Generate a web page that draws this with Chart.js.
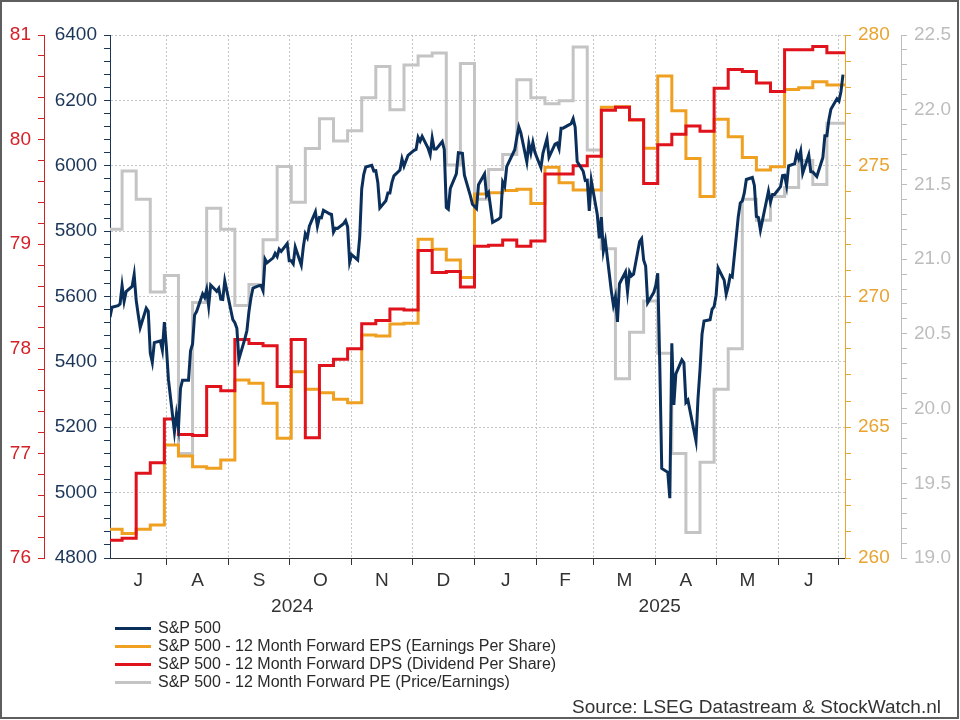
<!DOCTYPE html>
<html>
<head>
<meta charset="utf-8">
<script src="https://cdn.jsdelivr.net/npm/chart.js@4.4.1/dist/chart.umd.min.js"></script>
<style>
  html, body { margin: 0; padding: 0; background: #fff; }
  #wrap { position: relative; width: 960px; height: 720px; font-family: 'Liberation Sans', Arial, sans-serif; }
  #frame { position: absolute; left: 0; top: 0; width: 959px; height: 719px; box-sizing: border-box;
           border: 2px solid #5e5e5e; pointer-events: none; }
  #legend { position: absolute; left: 115px; top: 619px; font-size: 16px; color: #2a2a2a; }
  #legend div { height: 18px; line-height: 18px; white-space: nowrap; }
  #legend span { display: inline-block; width: 36px; height: 3px; margin-right: 7px; vertical-align: middle; }
  #source { position: absolute; right: 19px; top: 696px; font-size: 19px; color: #333; white-space: nowrap; }
</style>
</head>
<body>
<div id="wrap">
  <canvas id="myChart" width="960" height="720"></canvas>
  <div id="legend"></div>
  <div id="source">Source: LSEG Datastream &amp; StockWatch.nl</div>
  <div id="frame"></div>
</div>
<script>
// S&P 500 daily closes
var spDates = [
  '2024-07-04','2024-07-05','2024-07-08','2024-07-09','2024-07-10','2024-07-11','2024-07-12','2024-07-15','2024-07-16','2024-07-17','2024-07-18','2024-07-19','2024-07-22','2024-07-23','2024-07-24','2024-07-25','2024-07-26','2024-07-29','2024-07-30','2024-07-31',
  '2024-08-01','2024-08-02','2024-08-05','2024-08-06','2024-08-07','2024-08-08','2024-08-09','2024-08-12','2024-08-13','2024-08-14','2024-08-15','2024-08-16','2024-08-19','2024-08-20','2024-08-21','2024-08-22','2024-08-23','2024-08-26','2024-08-27','2024-08-28','2024-08-29','2024-08-30',
  '2024-09-03','2024-09-04','2024-09-05','2024-09-06','2024-09-09','2024-09-10','2024-09-11','2024-09-12','2024-09-13','2024-09-16','2024-09-17','2024-09-18','2024-09-19','2024-09-20','2024-09-23','2024-09-24','2024-09-25','2024-09-26','2024-09-27','2024-09-30',
  '2024-10-01','2024-10-02','2024-10-03','2024-10-04','2024-10-07','2024-10-08','2024-10-09','2024-10-10','2024-10-11','2024-10-14','2024-10-15','2024-10-16','2024-10-17','2024-10-18','2024-10-21','2024-10-22','2024-10-23','2024-10-24','2024-10-25','2024-10-28','2024-10-29','2024-10-30','2024-10-31',
  '2024-11-01','2024-11-04','2024-11-05','2024-11-06','2024-11-07','2024-11-08','2024-11-11','2024-11-12','2024-11-13','2024-11-14','2024-11-15','2024-11-18','2024-11-19','2024-11-20','2024-11-21','2024-11-22','2024-11-25','2024-11-26','2024-11-27','2024-11-29',
  '2024-12-02','2024-12-03','2024-12-04','2024-12-05','2024-12-06','2024-12-09','2024-12-10','2024-12-11','2024-12-12','2024-12-13','2024-12-16','2024-12-17','2024-12-18','2024-12-19','2024-12-20','2024-12-23','2024-12-24','2024-12-26','2024-12-27','2024-12-30','2024-12-31',
  '2025-01-02','2025-01-03','2025-01-06','2025-01-07','2025-01-08','2025-01-10','2025-01-13','2025-01-14','2025-01-15','2025-01-16','2025-01-17','2025-01-21','2025-01-22','2025-01-23','2025-01-24','2025-01-27','2025-01-28','2025-01-29','2025-01-30','2025-01-31',
  '2025-02-03','2025-02-04','2025-02-05','2025-02-06','2025-02-07','2025-02-10','2025-02-11','2025-02-12','2025-02-13','2025-02-14','2025-02-18','2025-02-19','2025-02-20','2025-02-21','2025-02-24','2025-02-25','2025-02-26','2025-02-27','2025-02-28',
  '2025-03-03','2025-03-04','2025-03-05','2025-03-06','2025-03-07','2025-03-10','2025-03-11','2025-03-12','2025-03-13','2025-03-14','2025-03-17','2025-03-18','2025-03-19','2025-03-20','2025-03-21','2025-03-24','2025-03-25','2025-03-26','2025-03-27','2025-03-28','2025-03-31',
  '2025-04-01','2025-04-02','2025-04-03','2025-04-04','2025-04-07','2025-04-08','2025-04-09','2025-04-10','2025-04-11','2025-04-14','2025-04-15','2025-04-16','2025-04-17','2025-04-21','2025-04-22','2025-04-23','2025-04-24','2025-04-25','2025-04-28','2025-04-29','2025-04-30',
  '2025-05-01','2025-05-02','2025-05-05','2025-05-06','2025-05-07','2025-05-08','2025-05-09','2025-05-12','2025-05-13','2025-05-14','2025-05-15','2025-05-16','2025-05-19','2025-05-20','2025-05-21','2025-05-22','2025-05-23','2025-05-27','2025-05-28','2025-05-29','2025-05-30',
  '2025-06-02','2025-06-03','2025-06-04','2025-06-05','2025-06-06','2025-06-09','2025-06-10','2025-06-11','2025-06-12','2025-06-13','2025-06-16','2025-06-17','2025-06-18','2025-06-20','2025-06-23','2025-06-24','2025-06-25','2025-06-26','2025-06-27','2025-06-30',
  '2025-07-01','2025-07-02','2025-07-03'
];
var spClose = [
  5537,5567,5572,5577,5633,5585,5615,5631,5667,5589,5545,5505,5564,5555,5427,5399,5459,5464,5436,5522,
  5446,5347,5186,5240,5199,5319,5344,5344,5434,5455,5543,5554,5608,5597,5621,5571,5635,5616,5625,5592,5591,5648,
  5529,5520,5503,5408,5471,5496,5554,5596,5626,5633,5634,5618,5714,5703,5718,5732,5722,5745,5738,5762,
  5709,5709,5700,5751,5696,5751,5792,5780,5815,5859,5815,5842,5841,5864,5853,5851,5797,5809,5808,5823,5832,5813,5705,
  5728,5712,5782,5929,5973,5996,6001,5984,5985,5949,5871,5893,5917,5917,5949,5969,5987,6021,5999,6032,
  6047,6050,6087,6075,6090,6053,6034,6085,6051,6051,6074,6050,5872,5867,5931,5975,6040,6038,5971,5907,5882,
  5869,5942,5975,5909,5918,5827,5837,5843,5950,5937,5997,6049,6086,6119,6101,6012,6068,6039,6071,6041,
  5994,6038,6061,6083,6026,6066,6069,6052,6115,6115,6129,6144,6118,6013,5983,5955,5956,5862,5955,
  5850,5778,5843,5739,5770,5615,5573,5599,5522,5639,5675,5615,5675,5663,5668,5768,5777,5712,5693,5581,5612,
  5633,5671,5397,5074,5062,4983,5457,5268,5363,5406,5397,5276,5283,5158,5288,5376,5485,5525,5529,5561,5569,
  5604,5687,5650,5607,5631,5664,5660,5844,5886,5892,5917,5958,5964,5940,5845,5842,5803,5922,5889,5912,5912,
  5936,5970,5971,5939,6000,6006,6038,6022,6045,5977,6033,5982,5981,5967,6025,6092,6092,6141,6173,6205,
  6198,6227,6279
];

// weekly forward estimates (value holds from that date on)
var weekDates = [
  '2024-07-04','2024-07-10','2024-07-17','2024-07-24','2024-07-31','2024-08-07','2024-08-14','2024-08-21','2024-08-28',
  '2024-09-04','2024-09-11','2024-09-18','2024-09-25','2024-10-02','2024-10-09','2024-10-16','2024-10-23','2024-10-30',
  '2024-11-06','2024-11-13','2024-11-20','2024-11-27','2024-12-04','2024-12-11','2024-12-18','2024-12-25',
  '2025-01-01','2025-01-08','2025-01-15','2025-01-22','2025-01-29','2025-02-05','2025-02-12','2025-02-19','2025-02-26',
  '2025-03-05','2025-03-12','2025-03-19','2025-03-26','2025-04-02','2025-04-09','2025-04-16','2025-04-23','2025-04-30',
  '2025-05-07','2025-05-14','2025-05-21','2025-05-28','2025-06-04','2025-06-11','2025-06-18','2025-06-25','2025-07-04'
];
var epsFwd = [
  261.10,260.94,261.10,261.26,264.32,263.90,263.49,263.43,263.75,
  266.81,266.68,265.92,264.58,267.12,266.45,266.32,266.07,265.94,
  268.53,268.49,268.95,268.98,272.19,271.81,271.40,270.73,
  273.92,273.97,274.05,274.10,273.56,274.94,274.35,274.07,274.07,
  277.24,277.26,276.75,275.67,278.43,277.10,275.28,273.82,276.78,
  276.11,275.32,274.84,274.96,277.92,277.98,278.21,278.09,278.09
];
var dpsFwd = [
  76.17,76.19,76.81,76.91,77.33,77.18,77.17,77.64,77.60,
  78.09,78.05,78.03,77.64,78.09,77.15,77.84,77.90,78.00,
  78.24,78.27,78.38,78.37,78.94,78.73,78.74,78.59,
  78.98,78.99,79.04,78.98,79.03,79.67,79.67,79.75,79.84,
  80.28,80.31,80.19,79.58,79.95,80.05,80.13,80.08,80.49,
  80.67,80.65,80.54,80.46,80.86,80.86,80.89,80.83,80.83
];
var peFwd = [
  21.20,21.59,21.40,20.78,20.89,19.70,20.71,21.34,21.20,
  20.69,20.83,21.13,21.62,21.38,21.74,21.94,21.79,21.86,
  22.08,22.29,22.00,22.30,22.36,22.38,21.63,22.31,
  21.40,21.60,21.70,22.20,22.08,22.04,22.06,22.42,21.73,
  21.07,20.20,20.51,20.72,20.37,19.70,19.17,19.64,20.13,
  20.40,21.40,21.26,21.42,21.48,21.66,21.50,21.91,21.91
];

// axes
var monthStarts = ['2024-08-01','2024-09-01','2024-10-01','2024-11-01','2024-12-01','2025-01-01',
                   '2025-02-01','2025-03-01','2025-04-01','2025-05-01','2025-06-01','2025-07-01'];
var monthLabels = ['J','A','S','O','N','D','J','F','M','A','M','J'];
var yearLabels = ['2024', '2025'];
var xStart = '2024-07-04', xEnd = '2025-07-04';
var spTicks = [4800, 5000, 5200, 5400, 5600, 5800, 6000, 6200, 6400];
var dpsTicks = [76, 77, 78, 79, 80, 81];
var epsTicks = [260, 265, 270, 275, 280];
var peTicks = [19.0, 19.5, 20.0, 20.5, 21.0, 21.5, 22.0, 22.5];

var seriesNames = ['S&P 500',
  'S&P 500 - 12 Month Forward EPS (Earnings Per Share)',
  'S&P 500 - 12 Month Forward DPS (Dividend Per Share)',
  'S&P 500 - 12 Month Forward PE (Price/Earnings)'];
var seriesColors = ['#0b2f5b', '#f0a020', '#e0121b', '#c4c4c4'];

var T0 = Date.UTC(2024, 6, 4);
function dayOf(s) {
  var p = s.split('-');
  return (Date.UTC(+p[0], +p[1] - 1, +p[2]) - T0) / 86400000;
}
function pts(dates, vals) {
  return dates.map(function (d, i) { return { x: dayOf(d), y: vals[i] }; });
}
// major ticks plus 4 minor ticks in each gap
function withMinor(major) {
  var out = [];
  for (var i = 0; i < major.length - 1; i++) {
    var step = (major[i + 1] - major[i]) / 5;
    for (var k = 0; k < 5; k++) out.push({ value: major[i] + k * step });
  }
  out.push({ value: major[major.length - 1] });
  return out;
}
function isMajor(major, v) {
  return major.some(function (m) { return Math.abs(m - v) < 1e-6; });
}

var FONT = "'Liberation Sans', Arial, sans-serif";
var xMin = dayOf(xStart), xMax = dayOf(xEnd);
var bounds = [xMin].concat(monthStarts.map(dayOf));
var monthMid = monthLabels.map(function (l, i) { return (bounds[i] + bounds[i + 1]) / 2; });
var yearBounds = [xMin, dayOf('2025-01-01'), xMax];
var yearMid = yearLabels.map(function (l, i) { return (yearBounds[i] + yearBounds[i + 1]) / 2; });

function yAxis(major, color, pos, weight, width, fmt, grid) {
  return {
    type: 'linear', position: pos, weight: weight,
    min: major[0], max: major[major.length - 1],
    afterBuildTicks: function (s) { s.ticks = withMinor(major); },
    afterFit: function (s) { s.width = width; },
    ticks: {
      autoSkip: false, padding: 7, color: color,
      font: { family: FONT, size: 19 },
      callback: function (v) { return isMajor(major, v) ? fmt(v) : ''; }
    },
    grid: {
      drawOnChartArea: !!grid, tickLength: 6, tickColor: color, tickBorderDash: [],
      color: function (c) { return c.tick && isMajor(major, c.tick.value) ? '#c6c6c6' : 'rgba(0,0,0,0)'; }
    },
    border: { color: color, width: 1, dash: [2, 2] }
  };
}

function labelAxis(mids, labels, weight, height, pad) {
  return {
    type: 'linear', position: 'bottom', weight: weight, min: xMin, max: xMax,
    afterBuildTicks: function (s) { s.ticks = mids.map(function (v) { return { value: v }; }); },
    afterFit: function (s) { s.height = height; },
    ticks: {
      autoSkip: false, maxRotation: 0, padding: pad, color: '#333',
      font: { family: FONT, size: 19 },
      callback: function (v, i) { return labels[i]; }
    },
    grid: { display: false, drawTicks: false },
    border: { display: false }
  };
}

var datasets = [
  { label: seriesNames[0], data: pts(spDates, spClose), yAxisID: 'ySP', order: 0 },
  { label: seriesNames[1], data: pts(weekDates, epsFwd), yAxisID: 'yEPS', stepped: true, order: 2 },
  { label: seriesNames[2], data: pts(weekDates, dpsFwd), yAxisID: 'yDPS', stepped: true, order: 1 },
  { label: seriesNames[3], data: pts(weekDates, peFwd), yAxisID: 'yPE', stepped: true, order: 3 }
];
datasets.forEach(function (d, i) {
  d.xAxisID = 'x';
  d.borderColor = seriesColors[i];
  d.backgroundColor = seriesColors[i];
  d.borderWidth = 3;
  d.pointRadius = 0;
  d.fill = false;
  d.tension = 0;
});

var ctx = document.getElementById('myChart').getContext('2d');
var myChart = new Chart(ctx, {
  type: 'line',
  data: { datasets: datasets },
  options: {
    responsive: false,
    animation: false,
    devicePixelRatio: 1,
    layout: { padding: { top: 35, left: 4, right: 0, bottom: 107 } },
    plugins: { legend: { display: false }, tooltip: { enabled: false } },
    scales: {
      x: {
        type: 'linear', position: 'bottom', weight: 0, min: xMin, max: xMax,
        afterBuildTicks: function (s) { s.ticks = monthStarts.map(function (d) { return { value: dayOf(d) }; }); },
        ticks: { display: false, autoSkip: false },
        grid: { color: '#c6c6c6', tickColor: '#333', tickLength: 7, tickBorderDash: [] },
        border: { color: '#333', width: 1, dash: [2, 2] }
      },
      xMonth: labelAxis(monthMid, monthLabels, 1, 24, 4),
      xYear: labelAxis(yearMid, yearLabels, 2, 24, 6),
      yDPS: yAxis(dpsTicks, '#d42027', 'left', 1, 40, function (v) { return String(Math.round(v)); }, false),
      ySP: yAxis(spTicks, '#1b3558', 'left', 0, 66, function (v) { return String(Math.round(v)); }, true),
      yEPS: yAxis(epsTicks, '#e9a430', 'right', 0, 56, function (v) { return String(Math.round(v)); }, false),
      yPE: yAxis(peTicks, '#bdbdbd', 'right', 1, 59, function (v) { return v.toFixed(1); }, false)
    }
  }
});

// legend, one entry per line
var legend = document.getElementById('legend');
datasets.forEach(function (d) {
  var row = document.createElement('div');
  var swatch = document.createElement('span');
  swatch.style.background = d.borderColor;
  row.appendChild(swatch);
  row.appendChild(document.createTextNode(d.label));
  legend.appendChild(row);
});
</script>
</body>
</html>
